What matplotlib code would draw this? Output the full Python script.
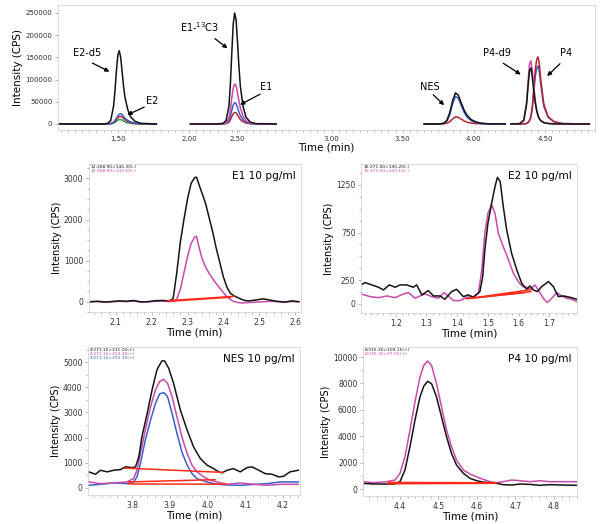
import matplotlib
matplotlib.use("Agg")
import matplotlib.pyplot as plt
from matplotlib.ticker import MultipleLocator

BLACK = "#141414"
MAGENTA = "#c94aa8"
BLUE = "#3b5fcc"
RED = "#b8262c"
GREEN = "#2f9a4a"
BASE = "#ff2a1a"

# ---- overview chromatogram, four time windows ----
seg1_t = [1.08, 1.40, 1.43, 1.45, 1.47, 1.48, 1.49, 1.50, 1.51, 1.52, 1.53, 1.54, 1.55, 1.57, 1.59, 1.62, 1.66, 1.77]
seg1_black = [0, 0, 1500, 8000, 40000, 75000, 120000, 155000, 165000, 150000, 118000, 85000, 60000, 32000, 16000, 6000, 1500, 0]
seg1_blue = [0, 0, 200, 1000, 4000, 8000, 13000, 18000, 22000, 23000, 21000, 17000, 13000, 8000, 4500, 2000, 500, 0]
seg1_red = [0, 0, 150, 700, 3000, 6000, 10000, 14000, 16500, 17000, 15500, 12500, 9500, 5500, 3000, 1200, 300, 0]
seg1_green = [0, 0, 100, 400, 1800, 3500, 6000, 8500, 10000, 9800, 8500, 6500, 4500, 2500, 1200, 500, 100, 0]

seg2_t = [2.01, 2.20, 2.24, 2.26, 2.28, 2.29, 2.30, 2.31, 2.32, 2.33, 2.34, 2.35, 2.36, 2.38, 2.40, 2.43, 2.47, 2.61]
seg2_black = [0, 0, 1500, 8000, 40000, 90000, 160000, 225000, 250000, 235000, 185000, 130000, 85000, 38000, 15000, 4000, 800, 0]
seg2_magenta = [0, 0, 600, 3000, 14000, 32000, 58000, 81000, 90000, 86000, 70000, 52000, 36000, 17000, 7000, 2000, 400, 0]
seg2_blue = [0, 0, 300, 1500, 7500, 17000, 31000, 43000, 48000, 46000, 37000, 27000, 19000, 9000, 3800, 1100, 200, 0]
seg2_red = [0, 0, 150, 800, 4000, 9000, 16500, 23000, 26000, 25000, 20000, 15000, 10000, 4800, 2000, 600, 100, 0]

seg3_t = [3.65, 3.76, 3.79, 3.81, 3.83, 3.85, 3.87, 3.89, 3.91, 3.93, 3.95, 3.98, 4.01, 4.05, 4.10, 4.22]
seg3_black = [0, 0, 2000, 8000, 25000, 52000, 70000, 65000, 48000, 32000, 20000, 10000, 5000, 1800, 400, 0]
seg3_blue = [0, 0, 1500, 6500, 21000, 45000, 62000, 58000, 42000, 27000, 16000, 7500, 3500, 1200, 300, 0]
seg3_red = [0, 0, 400, 1600, 5000, 11000, 16000, 15000, 11000, 7000, 4000, 2000, 900, 300, 80, 0]

seg4_t = [4.26, 4.32, 4.35, 4.37, 4.38, 4.39, 4.40, 4.41, 4.42, 4.43, 4.44, 4.45, 4.46, 4.47, 4.49, 4.52, 4.56, 4.62, 4.81]
seg4_black = [0, 500, 8000, 45000, 85000, 120000, 126000, 105000, 75000, 48000, 30000, 18000, 11000, 7000, 3000, 1000, 200, 0, 0]
seg4_magenta = [0, 600, 9000, 50000, 95000, 135000, 142000, 118000, 85000, 55000, 34000, 20000, 12000, 8000, 3500, 1200, 250, 0, 0]
seg4_blue = [0, 0, 200, 1000, 3000, 7000, 15000, 35000, 70000, 105000, 125000, 131000, 115000, 85000, 40000, 15000, 5000, 800, 0]
seg4_red = [0, 0, 250, 1200, 3500, 8000, 17000, 40000, 80000, 120000, 145000, 151000, 133000, 98000, 46000, 17000, 5500, 900, 0]

# the composite figure prints its "2.50" label under the E1 peak
overview_tick_pos = [1.5, 2.0, 2.34, 3.0, 3.5, 4.0, 4.5]
overview_tick_labels = ["1.50", "2.00", "2.50", "3.00", "3.50", "4.00", "4.50"]

# ---- E1 10 pg/ml ----
e1_t = [2.03, 2.05, 2.07, 2.09, 2.11, 2.13, 2.15, 2.17, 2.19, 2.21, 2.23, 2.24, 2.25, 2.26, 2.27, 2.28, 2.29, 2.30,
        2.31, 2.32, 2.325, 2.33, 2.34, 2.35, 2.36, 2.37, 2.38, 2.39, 2.40, 2.41, 2.42, 2.43, 2.44, 2.45, 2.46, 2.47,
        2.49, 2.51, 2.53, 2.55, 2.57, 2.59, 2.61]
e1_black = [0, 10, -10, 5, 20, 10, 30, -5, 0, 25, 30, 25, 20, 80, 700, 1450, 2000, 2500,
            2880, 3020, 3030, 2900, 2650, 2400, 2050, 1700, 1300, 950, 600, 350, 200, 140, 100, 60, 30, 20,
            40, 70, 40, 10, -10, 20, 0]
e1_magenta = [0, 5, -5, 0, 10, 5, 15, -5, 0, 10, 15, 10, 5, 20, 60, 300, 700, 1100,
              1420, 1570, 1590, 1400, 1060, 850, 690, 560, 440, 330, 220, 120, 50, 0, -20, -30, -25, -20,
              -10, 0, 10, 0, -10, 5, 0]
e1_labels = ["12:268.90>145.30(-)", "12:268.90>143.05(-)"]

# ---- E2 10 pg/ml ----
e2_black_t = [1.087, 1.10, 1.122, 1.144, 1.16, 1.179, 1.198, 1.214, 1.236, 1.257, 1.268, 1.285, 1.306, 1.323, 1.344,
              1.36, 1.382, 1.398, 1.42, 1.436, 1.453, 1.474, 1.483, 1.49, 1.50, 1.512, 1.523, 1.531, 1.54, 1.55,
              1.561, 1.577, 1.594, 1.61, 1.626, 1.637, 1.648, 1.661, 1.675, 1.697, 1.713, 1.729, 1.746, 1.767, 1.789]
e2_black = [200, 224, 200, 175, 147, 200, 175, 200, 200, 175, 200, 95, 140, 84, 84,
            49, 130, 154, 77, 95, 70, 130, 287, 567, 847, 1057, 1232, 1330, 1285, 1022,
            777, 532, 357, 217, 154, 189, 147, 130, 182, 235, 182, 77, 84, 70, 49]
e2_magenta_t = [1.087, 1.116, 1.144, 1.171, 1.198, 1.225, 1.241, 1.263, 1.279, 1.295, 1.317, 1.339, 1.357, 1.371,
                1.388, 1.409, 1.431, 1.453, 1.469, 1.48, 1.49, 1.50, 1.512, 1.523, 1.534, 1.55, 1.567, 1.583,
                1.599, 1.613, 1.626, 1.639, 1.653, 1.667, 1.68, 1.693, 1.708, 1.724, 1.74, 1.756, 1.773, 1.789]
e2_magenta = [105, 77, 66, 84, 66, 105, 119, 60, 84, 105, 77, 60, 119, 84,
              35, 35, 70, 77, 112, 357, 742, 952, 1040, 952, 742, 602, 462, 322,
              235, 182, 175, 154, 200, 130, 60, 14, 60, 119, 84, 60, 49, 25]
e2_labels = ["10:271.00>145.20(-)", "10:271.00>143.10(-)"]

# ---- NES 10 pg/ml ----
nes_black_t = [3.685, 3.703, 3.716, 3.734, 3.751, 3.769, 3.782, 3.80, 3.809, 3.818, 3.826, 3.84, 3.853, 3.866,
               3.879, 3.886, 3.897, 3.91, 3.928, 3.946, 3.963, 3.981, 3.999, 4.016, 4.03, 4.038, 4.052, 4.069,
               4.087, 4.105, 4.118, 4.136, 4.153, 4.171, 4.189, 4.202, 4.219, 4.241]
nes_black = [640, 545, 705, 640, 705, 730, 840, 810, 840, 1240, 2035, 2965, 3900, 4700,
             5050, 5050, 4760, 4160, 3100, 2300, 1635, 1170, 905, 770, 640, 600, 705, 770,
             640, 810, 840, 705, 570, 545, 440, 465, 640, 705]
nes_peak_t = [3.685, 3.716, 3.751, 3.786, 3.804, 3.813, 3.822, 3.835, 3.849, 3.862, 3.873, 3.884, 3.894, 3.906,
              3.919, 3.932, 3.946, 3.959, 3.972, 3.99, 4.008, 4.025, 4.052, 4.087, 4.122, 4.158, 4.193, 4.241]
nes_magenta = [240, 173, 200, 240, 372, 705, 1370, 2300, 3230, 3900, 4230, 4320, 4160, 3630,
               2830, 2035, 1370, 905, 640, 440, 305, 240, 146, 200, 146, 106, 146, 146]
nes_blue = [106, 146, 200, 173, 240, 440, 970, 1900, 2700, 3365, 3740, 3790, 3630, 2965,
            2170, 1435, 905, 570, 372, 280, 200, 150, 120, 106, 140, 173, 240, 240]
nes_labels = ["4:371.10>311.15(+)", "4:371.10>253.30(+)", "4:371.10>255.30(+)"]

# ---- P4 10 pg/ml ----
p4_t = [4.303, 4.331, 4.365, 4.387, 4.40, 4.413, 4.426, 4.439, 4.452, 4.462, 4.472, 4.482, 4.495, 4.508, 4.521,
        4.534, 4.547, 4.565, 4.582, 4.599, 4.616, 4.634, 4.651, 4.668, 4.69, 4.712, 4.738, 4.764, 4.79, 4.824, 4.859]
p4_black = [430, 380, 380, 380, 555, 1435, 3200, 5215, 6980, 7800, 8160, 7985, 6980, 5465, 3955,
            2695, 1815, 1185, 805, 630, 520, 480, 430, 330, 300, 380, 350, 280, 330, 300, 280]
p4_magenta = [555, 480, 555, 680, 1185, 2445, 4460, 6600, 8490, 9370, 9700, 9370, 7985, 6220, 4460,
              3200, 2190, 1435, 1135, 930, 730, 555, 480, 555, 680, 630, 555, 630, 555, 555, 555]
p4_labels = ["8:315.30>109.15(+)", "8:315.30>97.05(+)"]


def style_axes(ax, size):
    for s in ax.spines.values():
        s.set_color("#d4d4d4")
        s.set_linewidth(0.6)
    ax.tick_params(which="both", labelsize=size, colors="#999999", labelcolor="#333333",
                   length=2, width=0.5, pad=2)
    ax.tick_params(which="minor", length=1.2)


def draw_panel(ax, series, base_lines, labels, label_colors, title, xlim, ylim, xticks, yticks, xminor, yminor):
    for t, v, c in series:
        ax.plot(t, v, color=c, lw=1.1)
    for (x0, y0), (x1, y1) in base_lines:
        ax.plot([x0, x1], [y0, y1], color=BASE, lw=1.1)
    ax.set_xlim(xlim)
    ax.set_ylim(ylim)
    ax.set_xticks(xticks)
    ax.set_yticks(yticks)
    ax.xaxis.set_minor_locator(MultipleLocator(xminor))
    ax.yaxis.set_minor_locator(MultipleLocator(yminor))
    ax.xaxis.set_major_formatter("{x:.1f}")
    style_axes(ax, 5.5)
    ax.set_xlabel("Time (min)", fontsize=7.5, labelpad=1)
    ax.set_ylabel("Intensity (CPS)", fontsize=7, labelpad=1.5)
    ax.text(0.975, 0.95, title, transform=ax.transAxes, ha="right", va="top", fontsize=7.6)
    for i, (lab, c) in enumerate(zip(labels, label_colors)):
        ax.text(0.01, 0.995 - i * 0.028, lab, transform=ax.transAxes, ha="left", va="top",
                fontsize=3.2, color=c)


def main() -> None:
    fig = plt.figure(figsize=(6, 5.24), dpi=100)

    # overview
    ax = fig.add_axes([0.0967, 0.752, 0.895, 0.2385])
    groups = [
        (seg1_t, [(seg1_green, GREEN), (seg1_red, RED), (seg1_blue, BLUE), (seg1_black, BLACK)]),
        (seg2_t, [(seg2_red, RED), (seg2_blue, BLUE), (seg2_magenta, MAGENTA), (seg2_black, BLACK)]),
        (seg3_t, [(seg3_red, RED), (seg3_blue, BLUE), (seg3_black, BLACK)]),
        (seg4_t, [(seg4_blue, BLUE), (seg4_red, RED), (seg4_magenta, MAGENTA), (seg4_black, BLACK)]),
    ]
    for t, traces in groups:
        for v, c in traces:
            ax.plot(t, v, color=c, lw=1.1)
    ax.set_xlim(1.08, 4.85)
    ax.set_ylim(-13500, 268000)
    ax.set_xticks(overview_tick_pos, overview_tick_labels)
    ax.set_yticks([0, 50000, 100000, 150000, 200000, 250000])
    ax.xaxis.set_minor_locator(MultipleLocator(0.05))
    style_axes(ax, 5)
    ax.set_xlabel("Time (min)", fontsize=7.5, labelpad=1)
    ax.set_ylabel("Intensity (CPS)", fontsize=7.5, labelpad=1.5)

    arrows = [
        ("E2-d5", (1.283, 160000), (1.304, 140000), (1.458, 115000)),
        ("E2", (1.738, 52000), (1.703, 40500), (1.549, 18000)),
        ("E1-$^{13}$C3", (2.075, 218000), (2.166, 196000), (2.285, 166600)),
        ("E1", (2.544, 83000), (2.516, 70000), (2.341, 40500)),
        ("NES", (3.693, 83000), (3.70, 70000), (3.805, 38000)),
        ("P4-d9", (4.163, 160000), (4.19, 140000), (4.345, 108000)),
        ("P4", (4.646, 160000), (4.618, 140000), (4.50, 103600)),
    ]
    for label, pos, tail, head in arrows:
        ax.text(pos[0], pos[1], label, ha="center", va="center", fontsize=7)
        ax.annotate("", xy=head, xytext=tail,
                    arrowprops=dict(arrowstyle="-|>", color="black", lw=0.9, mutation_scale=6))

    # E1
    ax1 = fig.add_axes([0.148, 0.4046, 0.353, 0.2824])
    draw_panel(ax1, [(e1_t, e1_magenta, MAGENTA), (e1_t, e1_black, BLACK)],
               [((2.245, 25), (2.43, 130)), ((2.25, 10), (2.42, 110))],
               e1_labels, [BLACK, MAGENTA], "E1 10 pg/ml",
               (2.025, 2.615), (-250, 3350), [2.1, 2.2, 2.3, 2.4, 2.5, 2.6], [0, 1000, 2000, 3000], 0.02, 250)

    # E2
    ax2 = fig.add_axes([0.6017, 0.4027, 0.36, 0.2844])
    draw_panel(ax2, [(e2_magenta_t, e2_magenta, MAGENTA), (e2_black_t, e2_black, BLACK)],
               [((1.43, 55), (1.64, 130)), ((1.45, 62), (1.64, 150)), ((1.44, 58), (1.62, 118))],
               e2_labels, [BLACK, MAGENTA], "E2 10 pg/ml",
               (1.087, 1.79), (-95, 1470), [1.2, 1.3, 1.4, 1.5, 1.6, 1.7], [0, 250, 750, 1250], 0.02, 125)

    # NES
    ax3 = fig.add_axes([0.1467, 0.0553, 0.353, 0.2824])
    draw_panel(ax3, [(nes_peak_t, nes_blue, BLUE), (nes_peak_t, nes_magenta, MAGENTA),
                     (nes_black_t, nes_black, BLACK)],
               [((3.78, 790), (4.04, 620)), ((3.79, 240), (4.02, 330)), ((3.79, 160), (4.05, 150))],
               nes_labels, [BLACK, MAGENTA, BLUE], "NES 10 pg/ml",
               (3.683, 4.245), (-280, 5600), [3.8, 3.9, 4.0, 4.1, 4.2], [0, 1000, 2000, 3000, 4000, 5000], 0.02, 500)

    # P4
    ax4 = fig.add_axes([0.605, 0.0534, 0.3567, 0.2844])
    draw_panel(ax4, [(p4_t, p4_magenta, MAGENTA), (p4_t, p4_black, BLACK)],
               [((4.37, 400), (4.65, 430)), ((4.37, 500), (4.65, 470)), ((4.38, 450), (4.64, 450))],
               p4_labels, [BLACK, MAGENTA], "P4 10 pg/ml",
               (4.304, 4.86), (-530, 10760), [4.4, 4.5, 4.6, 4.7, 4.8], [0, 2000, 4000, 6000, 8000, 10000], 0.02, 1000)

    fig.savefig("out.png", dpi=100)


if __name__ == "__main__":
    main()
